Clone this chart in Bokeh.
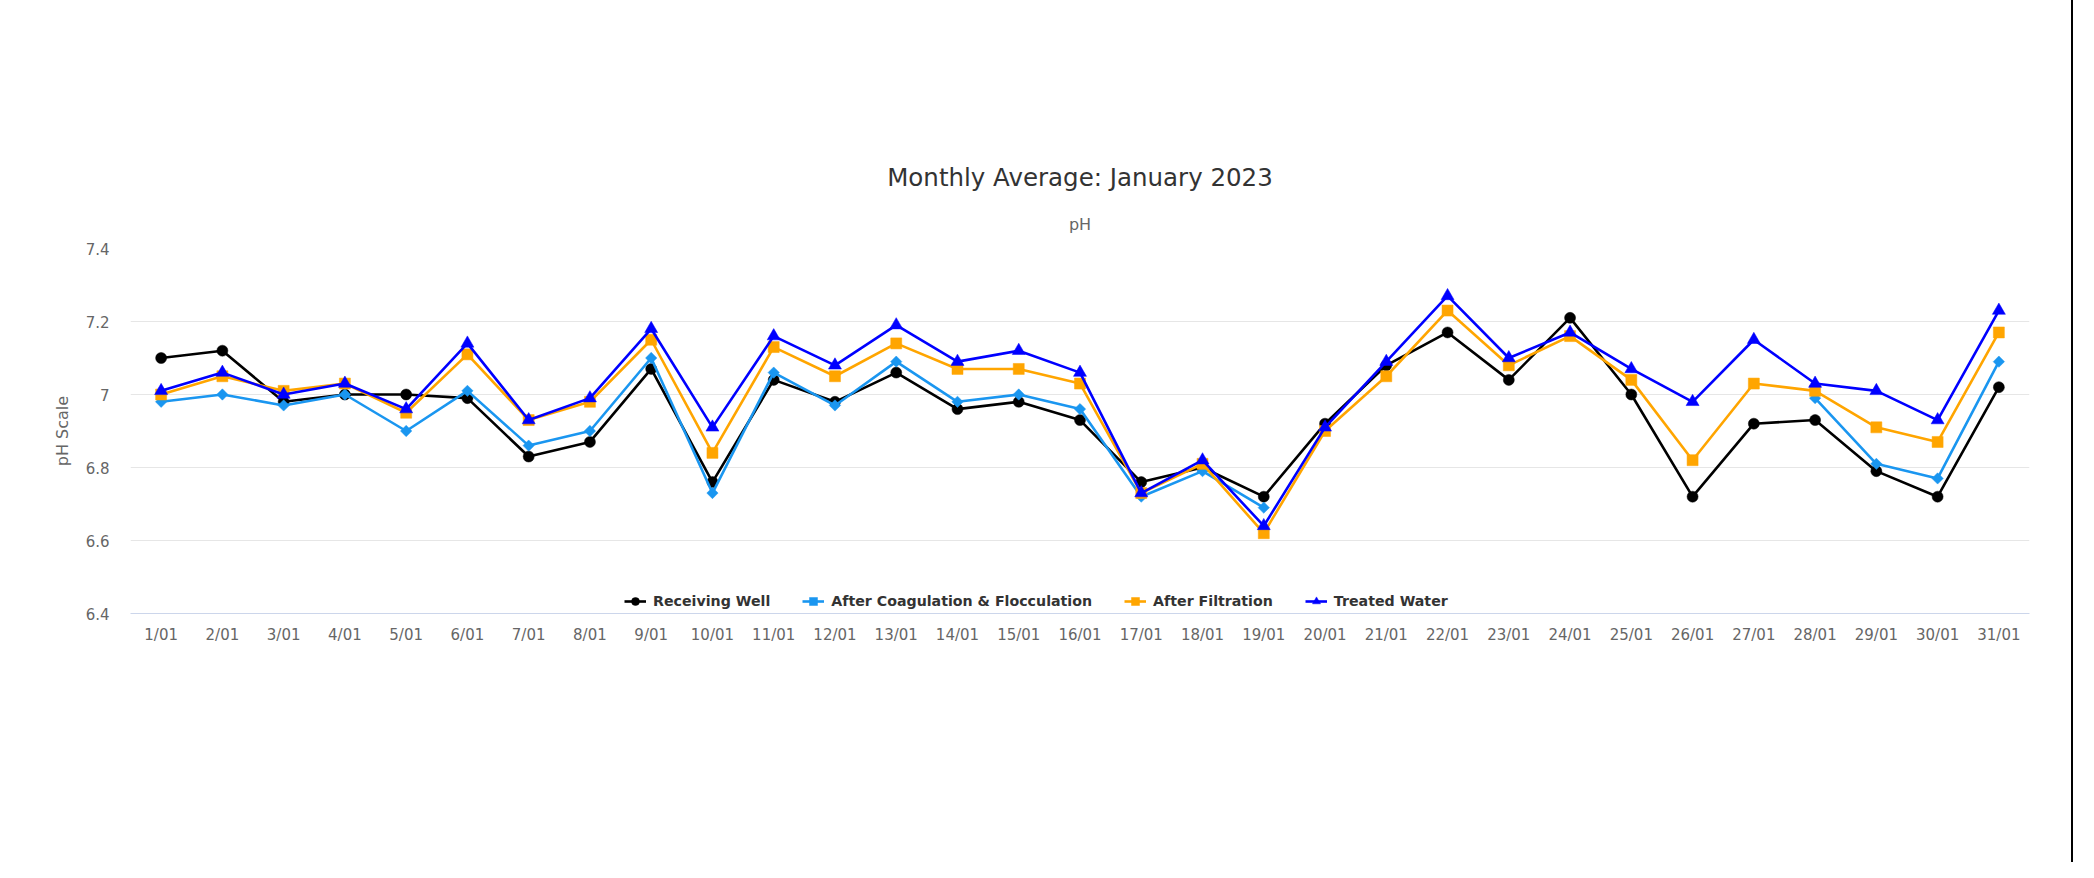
import numpy as np
from bokeh.plotting import figure
from bokeh.models import (ColumnDataSource, FactorRange, Range1d, FixedTicker,
                          NumeralTickFormatter, Title, Legend, LegendItem)
from bokeh.embed import file_html
from bokeh.resources import INLINE

# ---------------- data ----------------
days = ["1/01", "2/01", "3/01", "4/01", "5/01", "6/01", "7/01", "8/01", "9/01", "10/01",
        "11/01", "12/01", "13/01", "14/01", "15/01", "16/01", "17/01", "18/01", "19/01", "20/01",
        "21/01", "22/01", "23/01", "24/01", "25/01", "26/01", "27/01", "28/01", "29/01", "30/01",
        "31/01"]

receiving_well = [7.10, 7.12, 6.98, 7.00, 7.00, 6.99, 6.83, 6.87, 7.07, 6.76,
                  7.04, 6.98, 7.06, 6.96, 6.98, 6.93, 6.76, 6.80, 6.72, 6.92,
                  7.08, 7.17, 7.04, 7.21, 7.00, 6.72, 6.92, 6.93, 6.79, 6.72,
                  7.02]
after_coagulation = [6.98, 7.00, 6.97, 7.00, 6.90, 7.01, 6.86, 6.90, 7.10, 6.73,
                     7.06, 6.97, 7.09, 6.98, 7.00, 6.96, 6.72, 6.79, 6.69, None,
                     None, None, None, None, None, None, None, 6.99, 6.81, 6.77,
                     7.09]
after_filtration = [7.00, 7.05, 7.01, 7.03, 6.95, 7.11, 6.93, 6.98, 7.15, 6.84,
                    7.13, 7.05, 7.14, 7.07, 7.07, 7.03, 6.73, 6.81, 6.62, 6.90,
                    7.05, 7.23, 7.08, 7.16, 7.04, 6.82, 7.03, 7.01, 6.91, 6.87,
                    7.17]
treated_water = [7.01, 7.06, 7.00, 7.03, 6.96, 7.14, 6.93, 6.99, 7.18, 6.91,
                 7.16, 7.08, 7.19, 7.09, 7.12, 7.06, 6.73, 6.82, 6.64, 6.91,
                 7.09, 7.27, 7.10, 7.17, 7.07, 6.98, 7.15, 7.03, 7.01, 6.93,
                 7.23]

series_names = ["Receiving Well", "After Coagulation & Flocculation",
                "After Filtration", "Treated Water"]
y_ticks = [6.4, 6.6, 6.8, 7.0, 7.2, 7.4]

# ---------------- style ----------------
FONT = "DejaVu Sans"
colors = ["#000000", "#1a96f0", "#ffa500", "#0000ff"]
markers = ["circle", "square", "square", "triangle"]
marker_sizes = [11, 8, 11, 13]
marker_angles = [0, np.pi / 4, 0, 0]

p = figure(x_range=FactorRange(*days), y_range=Range1d(6.4, 7.4),
           frame_width=1899, frame_height=365,
           output_backend="svg", toolbar_location=None,
           min_border_left=130, min_border_right=42, min_border_top=248,
           min_border_bottom=249, outline_line_color=None,
           background_fill_color="white", border_fill_color="white")

p.styles = {"box-shadow": "-2px 0 0 0 #000, 2px 0 0 0 #000, 0 -2px 0 0 #000"}

# axes
xa = p.xaxis[0]
xa.axis_line_color = "#ccd6eb"
xa.axis_line_width = 1
xa.major_tick_line_color = None
xa.major_tick_out = 0
xa.major_tick_in = 0
xa.major_label_standoff = 12
xa.major_label_text_font = FONT
xa.major_label_text_font_size = "15px"
xa.major_label_text_color = "#666666"

ya = p.yaxis[0]
ya.ticker = FixedTicker(ticks=y_ticks)
ya.formatter = NumeralTickFormatter(format="0.[0]")
ya.axis_line_color = None
ya.major_tick_line_color = None
ya.minor_tick_line_color = None
ya.major_tick_out = 0
ya.major_tick_in = 0
ya.minor_tick_out = 0
ya.minor_tick_in = 0
ya.major_label_standoff = 21
ya.major_label_text_font = FONT
ya.major_label_text_font_size = "15px"
ya.major_label_text_color = "#666666"
ya.axis_label = "pH Scale"
ya.axis_label_text_font = FONT
ya.axis_label_text_font_size = "16px"
ya.axis_label_text_font_style = "normal"
ya.axis_label_text_color = "#666666"
ya.axis_label_standoff = 11

p.xgrid.grid_line_color = None
p.ygrid.ticker = FixedTicker(ticks=y_ticks)
p.ygrid.grid_line_color = "#e6e6e6"
p.ygrid.grid_line_width = 1

# series
all_values = [receiving_well, after_coagulation, after_filtration, treated_water]
items = []
for name, vals, c, m, s, a in zip(series_names, all_values, colors, markers,
                                  marker_sizes, marker_angles):
    arr = np.array([np.nan if v is None else v for v in vals], dtype=float)
    src = ColumnDataSource(data=dict(x=days, y=arr))
    ln = p.line("x", "y", source=src, line_color=c, line_width=2.6)
    sc = p.scatter("x", "y", source=src, marker=m, size=s, angle=a,
                   fill_color=c, line_color=c, line_width=0.5)
    items.append(LegendItem(label=name, renderers=[ln, sc]))

# legend in the empty band at the bottom of the plot area
legend = Legend(items=items, orientation="horizontal", location=(494, 2),
                glyph_width=22, glyph_height=20, label_standoff=7, spacing=32,
                margin=0, padding=10, border_line_color=None,
                background_fill_alpha=0, label_text_font=FONT,
                label_text_font_size="14.2px", label_text_font_style="bold",
                label_text_color="#333333")
p.add_layout(legend)

# titles
sub = Title(text="pH", align="center", offset=-44, standoff=30,
            text_font=FONT, text_font_size="16px", text_font_style="normal",
            text_color="#666666")
p.add_layout(sub, "above")
main = Title(text="Monthly Average: January 2023", align="center", offset=-44,
             standoff=12, text_font=FONT, text_font_size="24.5px",
             text_font_style="normal", text_color="#333333")
p.add_layout(main, "above")

open("out.html", "w").write(file_html(p, INLINE))
